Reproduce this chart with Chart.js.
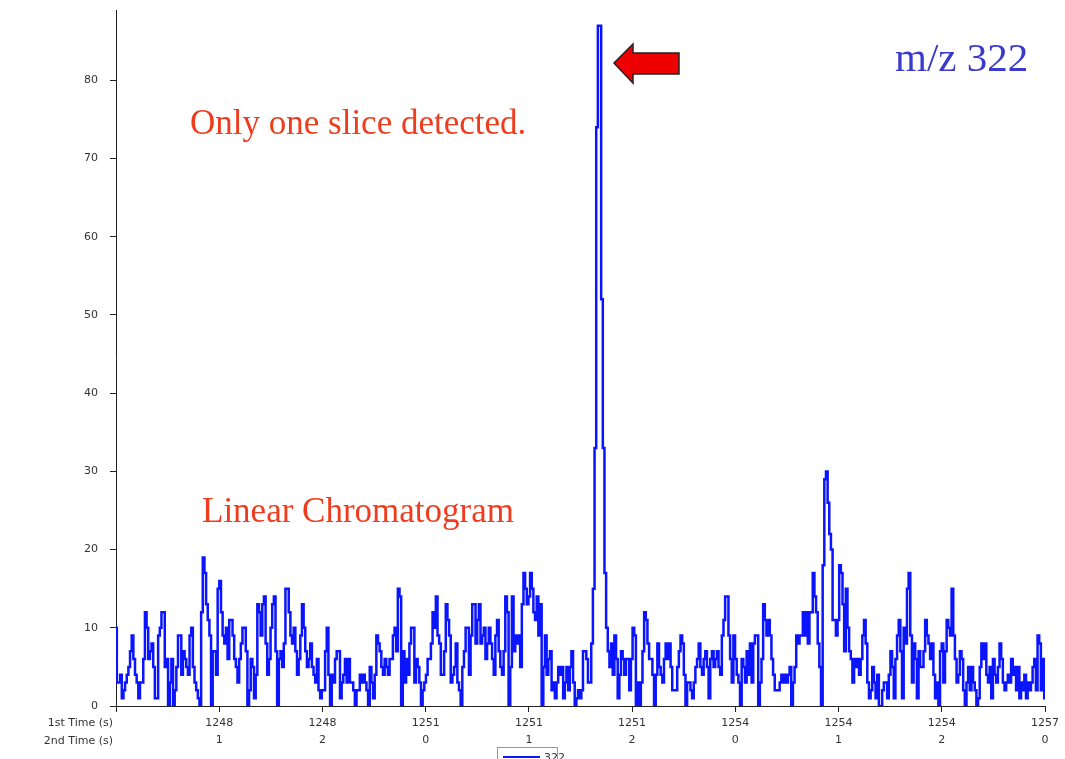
<!DOCTYPE html>
<html>
<head>
<meta charset="utf-8">
<script src="https://cdn.jsdelivr.net/npm/chart.js@4"></script>
<style>
  html, body { margin: 0; padding: 0; background: #fff; }
  #wrap { width: 1065px; height: 759px; }
</style>
</head>
<body>
<div id="wrap"><canvas id="grafico"></canvas></div>
<script>
// intensity of m/z 322 along the linear chromatogram
const intensity = [
  10,3, 3,4, 1,2, 3,4, 5,7, 9,6, 4,3, 1,3, 3,6, 12,10, 6,7, 8,5, 1,1, 9,10, 12,12, 5,6, 0,3, 6,0, 2,5, 9,9,
  4,7, 6,5, 4,9, 10,5, 3,2, 1,0, 12,19, 17,13, 11,9, 0,7, 7,4, 15,16, 12,9, 8,10, 6,11, 11,9, 6,5, 3,6, 8,10, 10,7,
  0,2, 6,5, 1,4, 13,12, 9,13, 14,8, 4,6, 10,13, 14,7, 0,6, 7,5, 8,15, 15,12, 9,8, 10,7, 4,6, 9,13, 10,7, 5,6, 8,5,
  4,3, 6,2, 1,2, 2,7, 10,4, 0,4, 3,6, 7,7, 1,3, 4,6, 3,6,
  3,3, 2,0, 2,2, 4,3, 4,3, 2,0, 5,3, 1,4, 9,8, 7,5, 4,6, 5,4, 6,6, 9,10, 7,15, 14,0, 7,3, 6,4, 8,10, 10,3,
  6,5, 3,0, 2,3, 4,6, 6,8, 12,10, 14,9, 8,4, 4,7, 13,11, 9,3, 4,5, 8,3, 2,0, 5,7, 10,10, 4,9, 13,13, 8,11, 13,8,
  9,10, 6,8, 10,8, 6,4, 9,11, 7,5, 4,7, 14,12, 0,5, 14,7, 9,8, 9,5, 13,17, 15,13, 14,17, 15,12, 11,14, 9,13, 0,5, 9,4,
  6,7, 2,3, 1,3, 5,4, 5,1, 3,5, 2,5, 7,3, 0,1, 2,1,
  2,7, 7,6, 3,3, 8,15, 33,74, 87,87, 52,33, 17,10,
  7,5, 8,4, 9,6, 1,4, 7,6, 4,6, 6,2, 6,10, 9,0, 3,0, 3,7, 12,11, 8,6, 6,4, 0,4, 8,5, 4,3, 6,8, 6,8, 5,2,
  2,2, 5,7, 9,8, 4,0, 3,3, 2,1, 3,5, 6,8, 5,4, 6,7, 5,1, 6,7, 5,6, 7,5, 4,9, 11,14, 14,9, 6,3, 9,6, 4,3,
  0,6, 5,3, 7,4, 8,3, 8,9, 9,0, 3,6, 13,11, 9,11, 9,6, 4,2, 2,2, 3,4, 3,4, 3,4, 5,0, 3,5, 9,8, 9,9, 12,9,
  12,8, 12,12, 17,14,
  12,8, 5,0, 18,29, 30,26, 22,20, 11,11, 9,11, 18,17, 13,7, 15,10, 7,6, 3,6, 5,6, 4,6, 9,11, 8,3, 1,2, 5,3, 1,4, 0,0,
  2,3, 3,1, 4,7, 5,1, 6,9, 11,7, 1,10, 8,15, 17,9, 3,8, 6,1, 7,5, 5,7, 11,9, 8,6, 8,4, 1,3, 0,7, 8,3, 7,11,
  10,9, 15,9, 6,3, 4,7, 6,2, 0,3, 5,2, 5,3, 2,0, 1,5, 8,6, 8,4, 3,5, 1,6, 4,3, 5,8, 6,3, 2,3, 4,3, 6,4,
  5,2, 5,1, 3,2, 4,1, 3,2, 3,5, 6,2, 9,8, 2,6, 1
];

const firstTime  = ['', '1248', '1248', '1251', '1251', '1251', '1254', '1254', '1254', '1257'];
const secondTime = ['', '1', '2', '0', '1', '2', '0', '1', '2', '0'];
const yTicks = [0, 10, 20, 30, 40, 50, 60, 70, 80];

const lastIndex = intensity.length - 1;

const extras = {
    id: 'extras',
    afterDraw(chart) {
        const c = chart.ctx;
        const x = chart.scales.x;
        c.save();

        // axis captions left of the first tick
        c.font = '11px "DejaVu Sans"';
        c.fillStyle = '#333';
        c.textAlign = 'right';
        c.textBaseline = 'middle';
        const x0 = x.getPixelForValue(0) - 3;
        c.fillText('1st Time (s)', x0, 723);
        c.fillText('2nd Time (s)', x0, 741);

        // annotations
        c.textAlign = 'left';
        c.textBaseline = 'alphabetic';
        c.fillStyle = '#f03c1e';
        c.font = '35px "Liberation Serif"';
        c.fillText('Only one slice detected.', 190, 134);
        c.fillText('Linear Chromatogram', 202, 522);
        c.fillStyle = '#3a3acc';
        c.font = '41px "Liberation Serif"';
        c.fillText('m/z 322', 895, 71);

        // red arrow pointing at the peak
        c.beginPath();
        c.moveTo(614, 63);
        c.lineTo(633, 44);
        c.lineTo(633, 53);
        c.lineTo(679, 53);
        c.lineTo(679, 74);
        c.lineTo(633, 74);
        c.lineTo(633, 83);
        c.closePath();
        c.fillStyle = '#ee0000';
        c.fill();
        c.lineWidth = 1.5;
        c.strokeStyle = '#222';
        c.stroke();

        // small legend box at the bottom
        const ds = chart.data.datasets[0];
        c.fillStyle = '#fff';
        c.fillRect(497, 747, 60, 20);
        c.strokeStyle = '#999';
        c.lineWidth = 1;
        c.strokeRect(497.5, 747.5, 60, 20);
        c.strokeStyle = ds.borderColor;
        c.lineWidth = 2;
        c.beginPath();
        c.moveTo(503, 757);
        c.lineTo(540, 757);
        c.stroke();
        c.fillStyle = '#333';
        c.font = '11px "DejaVu Sans"';
        c.textBaseline = 'middle';
        c.fillText(ds.label, 544, 758);
        c.restore();
    }
};

new Chart(document.getElementById('grafico'), {
    type: 'line',
    data: {
        datasets: [{
            label: '322',
            data: intensity.map((v, i) => ({ x: i, y: v })),
            borderColor: '#0a14ff',
            borderWidth: 2.5,
            pointRadius: 0,
            stepped: 'middle',
            fill: false
        }]
    },
    options: {
        responsive: true,
        maintainAspectRatio: false,
        animation: false,
        layout: { padding: { top: 10, right: 20, left: 0, bottom: 0 } },
        plugins: { legend: { display: false }, tooltip: { enabled: false } },
        scales: {
            x: {
                type: 'linear',
                min: 0,
                max: lastIndex,
                afterBuildTicks: (s) => {
                    s.ticks = firstTime.map((t, k) => ({ value: k * lastIndex / (firstTime.length - 1) }));
                },
                afterFit: (s) => { s.height = 53; },
                border: { color: '#222', width: 1 },
                grid: { drawOnChartArea: false, tickLength: 6, color: '#222' },
                ticks: {
                    autoSkip: false,
                    maxRotation: 0,
                    padding: 2,
                    color: '#333',
                    font: { family: 'DejaVu Sans', size: 11, lineHeight: 1.6 },
                    callback: (v, k) => (k === 0 ? '' : [firstTime[k], secondTime[k]])
                }
            },
            y: {
                min: 0,
                max: 89,
                afterBuildTicks: (s) => { s.ticks = yTicks.map(v => ({ value: v })); },
                afterFit: (s) => { s.width = 116; s.paddingTop = 0; s.paddingBottom = 0; },
                border: { color: '#222', width: 1 },
                grid: { drawOnChartArea: false, tickLength: 6, color: '#222' },
                ticks: {
                    padding: 12,
                    color: '#333',
                    font: { family: 'DejaVu Sans', size: 11 }
                }
            }
        }
    },
    plugins: [extras]
});
</script>
</body>
</html>
